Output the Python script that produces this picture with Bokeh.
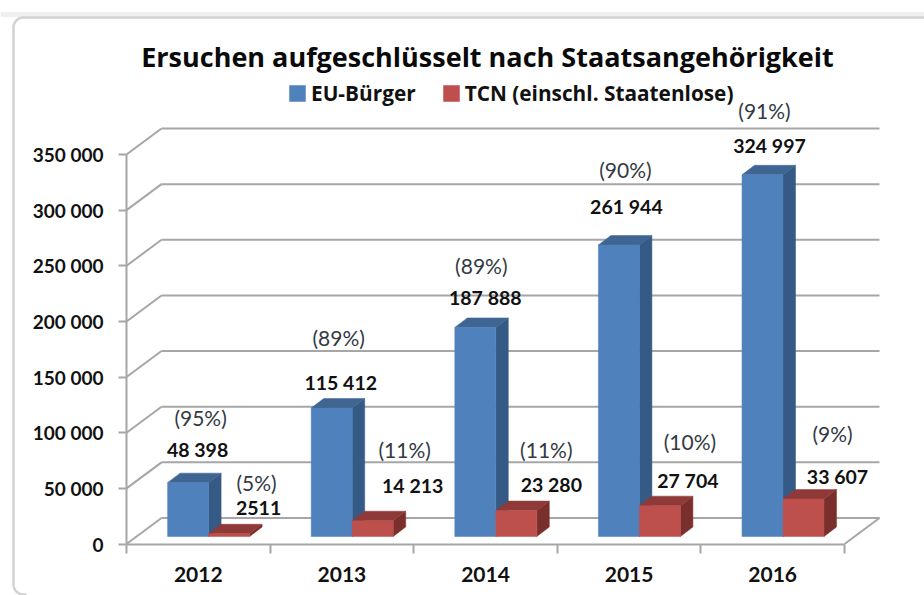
import numpy as np
from bokeh.plotting import figure
from bokeh.models import ColumnDataSource, Legend, LegendItem, FixedTicker
from bokeh.core.properties import value
from bokeh.embed import file_html
from bokeh.resources import INLINE

# ---- data ----
title_text = "Ersuchen aufgeschlüsselt  nach Staatsangehörigkeit"
years = ["2012", "2013", "2014", "2015", "2016"]
eu_values = [48398, 115412, 187888, 261944, 324997]
tcn_values = [2511, 14213, 23280, 27704, 33607]
eu_value_labels = ["48 398", "115 412", "187 888", "261 944", "324 997"]
tcn_value_labels = ["2511", "14 213", "23 280", "27 704", "33 607"]
eu_pct = ["(95%)", "(89%)", "(89%)", "(90%)", "(91%)"]
tcn_pct = ["(5%)", "(11%)", "(11%)", "(10%)", "(9%)"]
y_ticks = [0, 50000, 100000, 150000, 200000, 250000, 300000, 350000]
y_tick_labels = ["0", "50 000", "100 000", "150 000", "200 000", "250 000", "300 000", "350 000"]
series_names = ["EU-Bürger", "TCN (einschl. Staatenlose)"]

# ---- label nudges, pixels relative to the bar's top centre ----
eu_val_off = [(9.5, 33), (9, 25.6), (10, 30), (7.5, 38.5), (7, 29)]
eu_pct_off = [(12.5, 65), (7, 70.6), (6, 62), (6.5, 75.5), (2, 64)]
tcn_val_off = [(29.5, 26), (40, 35), (35, 26), (28, 25), (34, 22.6)]
tcn_pct_off = [(27.5, 51), (32, 71), (30, 61), (30, 64), (29, 65.6)]

# ---- layout ----
W, H = 924, 595
X0_REF, Y0_REF = 126.0, 543.5
CAT_PX = 143.6
VAL_PX = 389.5 / 350000

def rx(px):
    return (px - X0_REF) / CAT_PX

def ry(px):
    return (Y0_REF - px) / VAL_PX

WALL_DX, WALL_DY = 35 / CAT_PX, 26 / VAL_PX
BAR_W = 41 / CAT_PX
BAR_DX, BAR_DY = 12.5 / CAT_PX, 9.5 / VAL_PX
BASE_DX, BASE_DY = 10.3 / CAT_PX, 7.5 / VAL_PX

GRID = "#a6a6a6"
BLUE, BLUE_SIDE, BLUE_TOP = "#4f81bd", "#355a85", "#3f6593"
RED, RED_SIDE, RED_TOP = "#bd504c", "#7a2f2d", "#8f3a38"
FONT = "Lato"
WIDE_FONT = "Open Sans"

p = figure(width=W, height=H, output_backend="svg", toolbar_location=None,
           x_range=(rx(0), rx(W)), y_range=(ry(H), ry(0)),
           min_border=0, min_border_left=0, min_border_right=0,
           min_border_top=0, min_border_bottom=0)
p.outline_line_color = None
p.grid.visible = False
p.background_fill_color = "white"

# chart-area border
t = np.linspace(np.pi, np.pi / 2, 12)
r = 10
bx = [26, *(13 + r + r * np.cos(t[::-1])), *(13 + r + r * np.cos(t)), 924]
by = [594, *(594 - r + r * np.sin(t[::-1])), *(17 + r - r * np.sin(t)), 17]
p.line([rx(0), rx(924)], [ry(14), ry(14)], line_color="#efefef", line_width=5)
p.line([rx(a) for a in bx], [ry(b) for b in by], line_color="#d2d2d2", line_width=2.5)

# walls
back = [[(WALL_DX, v + WALL_DY), (5 + WALL_DX, v + WALL_DY)] for v in y_ticks]
diag = [[(0, v), (WALL_DX, v + WALL_DY)] for v in y_ticks] + [[(5, 0), (5 + WALL_DX, WALL_DY)]]
segs = back + diag
p.multi_line([[a[0] for a in s] for s in segs], [[a[1] for a in s] for s in segs],
             line_color=GRID, line_width=2)

def draw_bars(vals, centers, front, side, top):
    lefts = centers - BAR_W / 2
    rights = centers + BAR_W / 2
    base = BASE_DY
    tops = [base + v for v in vals]
    p.patches([[r_, r_ + BAR_DX, r_ + BAR_DX, r_] for r_ in rights],
              [[base, base + BAR_DY, t_ + BAR_DY, t_] for t_ in tops],
              fill_color=side, line_color=side, line_width=0.5)
    p.patches([[l, r_, r_ + BAR_DX, l + BAR_DX] for l, r_ in zip(lefts, rights)],
              [[t_, t_, t_ + BAR_DY, t_ + BAR_DY] for t_ in tops],
              fill_color=top, line_color=top, line_width=0.5)
    return p.vbar(x=centers, width=BAR_W, bottom=base, top=tops,
                  fill_color=front, line_color=front, line_width=0.5)

centres = np.arange(5) + 0.5 + BASE_DX
eu_r = draw_bars(eu_values, centres - BAR_W / 2, BLUE, BLUE_SIDE, BLUE_TOP)
tcn_r = draw_bars(tcn_values, centres + BAR_W / 2, RED, RED_SIDE, RED_TOP)

def labels(texts, vals, xc, offs, bold, color, size):
    src = ColumnDataSource(dict(
        x=list(xc), y=[BASE_DY + v for v in vals], text=texts,
        xo=[o[0] for o in offs], yo=[-o[1] for o in offs]))
    p.text(x="x", y="y", text="text", source=src, x_offset="xo", y_offset="yo",
           text_align="center", text_baseline="middle",
           text_font=value(FONT), text_font_size=size,
           text_font_style="bold" if bold else "normal", text_color=color)

labels(eu_value_labels, eu_values, centres - BAR_W / 2, eu_val_off, True, "#111111", "19.5px")
labels(tcn_value_labels, tcn_values, centres + BAR_W / 2, tcn_val_off, True, "#111111", "19.5px")
labels(eu_pct, eu_values, centres - BAR_W / 2, eu_pct_off, False, "#333a44", "21px")
labels(tcn_pct, tcn_values, centres + BAR_W / 2, tcn_pct_off, False, "#333a44", "21px")

# title
p.text(x=[rx(490.5)], y=[ry(55.5)], text=[title_text], text_align="center", text_baseline="middle",
       text_font=value(WIDE_FONT), text_font_size="27px", text_font_style="bold", text_color="#0a0a0a")

# axes
xa = p.xaxis[0]
xa.fixed_location = 0
xa.bounds = (0, 5)
xa.ticker = FixedTicker(ticks=[i + 0.5 for i in range(5)], minor_ticks=list(range(6)))
xa.major_label_overrides = {i + 0.5: y for i, y in enumerate(years)}
xa.major_tick_line_color = None
xa.major_tick_out = 0
xa.major_tick_in = 0
xa.minor_tick_out = 9
xa.minor_tick_in = 0
xa.minor_tick_line_color = GRID
xa.minor_tick_line_width = 2
xa.axis_line_color = GRID
xa.axis_line_width = 2
xa.major_label_standoff = 14
xa.major_label_text_font = FONT
xa.major_label_text_font_style = "bold"
xa.major_label_text_font_size = "21px"
xa.major_label_text_color = "#111111"

ya = p.yaxis[0]
ya.fixed_location = 0
ya.bounds = (0, 350000)
ya.ticker = FixedTicker(ticks=y_ticks)
ya.major_label_overrides = dict(zip(y_ticks, y_tick_labels))
ya.major_tick_out = 8
ya.major_tick_in = 0
ya.minor_tick_line_color = None
ya.major_tick_line_color = GRID
ya.major_tick_line_width = 2
ya.axis_line_color = GRID
ya.axis_line_width = 2
ya.major_label_standoff = 15
ya.major_label_text_font = FONT
ya.major_label_text_font_style = "bold"
ya.major_label_text_font_size = "19px"
ya.major_label_text_color = "#111111"

# legend
legend = Legend(items=[LegendItem(label=series_names[0], renderers=[eu_r]),
                       LegendItem(label=series_names[1], renderers=[tcn_r])],
                orientation="horizontal", location=(287, 488),
                background_fill_alpha=0, border_line_color=None, padding=0, margin=0,
                spacing=25, label_standoff=4, glyph_width=20, glyph_height=20,
                label_text_font=WIDE_FONT, label_text_font_style="bold",
                label_text_font_size="20.8px", label_text_color="#111111")
p.add_layout(legend)

open("out.html", "w").write(file_html(p, INLINE))
